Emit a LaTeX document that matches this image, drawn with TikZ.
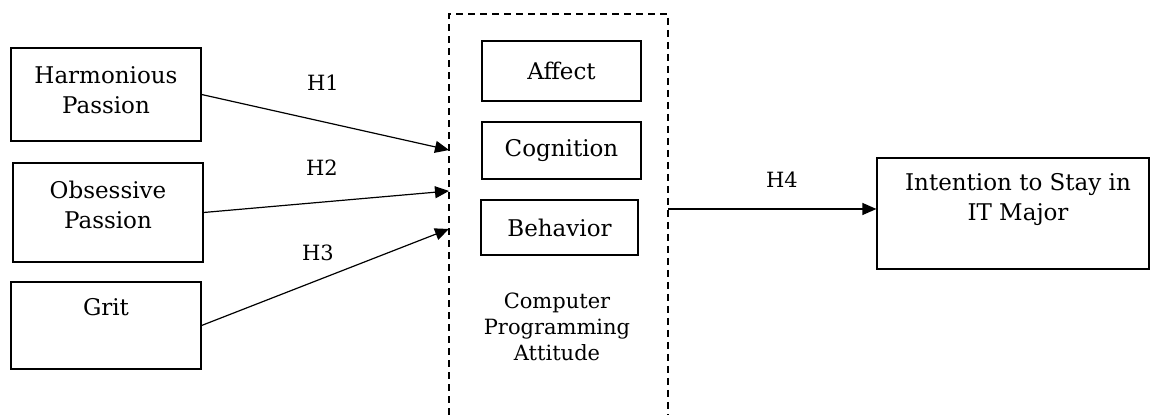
\documentclass[tikz,border=0pt]{standalone}
\usepackage{fontspec}
\setmainfont{DejaVu Serif}
\usetikzlibrary{arrows.meta}

\begin{document}
\begin{tikzpicture}[x=0.5pt,y=-0.5pt,
  box/.style={draw,line width=0.6pt,inner sep=0pt},
  txt/.style={font=\fontsize{11.5}{15}\selectfont,align=center},
  small/.style={font=\fontsize{10.5}{13}\selectfont,align=center},
  link/.style={-{Triangle[length=7pt,width=6pt]},line width=0.6pt}]
\useasboundingbox (0,0) rectangle (1150,415);
% 왼쪽 세 요인
\node[box,minimum width=95pt,minimum height=46.5pt] (harm) at (106,94.5) {};
\node[box,minimum width=95pt,minimum height=49.5pt] (obse) at (108,212.5) {};
\node[box,minimum width=95pt,minimum height=43.5pt] (grit) at (106,325.5) {};
\node[txt] (harmtxt) at (106,90) {Harmonious\\Passion};
\node[txt] (obsetxt) at (108,205) {Obsessive\\Passion};
\node[txt] (grittxt) at (106,307) {Grit};
% 가운데 점선 틀 (아래쪽은 열림)
\draw[dashed,dash pattern=on 3.5pt off 2.5pt,line width=0.7pt] (449,415) -- (449,14) -- (668,14) -- (668,415);
\node[box,txt,minimum width=79.5pt,minimum height=30pt] (affe) at (561.5,71) {Affect};
\node[box,txt,minimum width=79.5pt,minimum height=28.5pt] (cogn) at (561.5,150.5) {Cognition};
\node[box,txt,minimum width=78.5pt,minimum height=27.5pt] (beha) at (559.5,227.5) {Behavior};
\node[small] (cpa) at (557,327) {Computer\\Programming\\Attitude};
\coordinate (inA) at (449,150);
\coordinate (inB) at (449,191);
\coordinate (inC) at (449,229);
\coordinate (outD) at (668,209);
% 오른쪽 결과
\node[box,minimum width=136pt,minimum height=55.5pt] (inte) at (1013,213.5) {};
\node[txt] (intetxt) at (1018,200) {Intention to Stay in\\IT Major};
% 가설 화살표
\draw[link] (harm.east) -- (inA);
\draw[link] (obse.east) -- (inB);
\draw[link] (grit.east) -- (inC);
\draw[link] (outD) -- (outD -| inte.west);
\node[small] (h1) at (323,83) {H1};
\node[small] (h2) at (322,168) {H2};
\node[small] (h3) at (318,253) {H3};
\node[small] (h4) at (782,180) {H4};
\end{tikzpicture}
\end{document}
